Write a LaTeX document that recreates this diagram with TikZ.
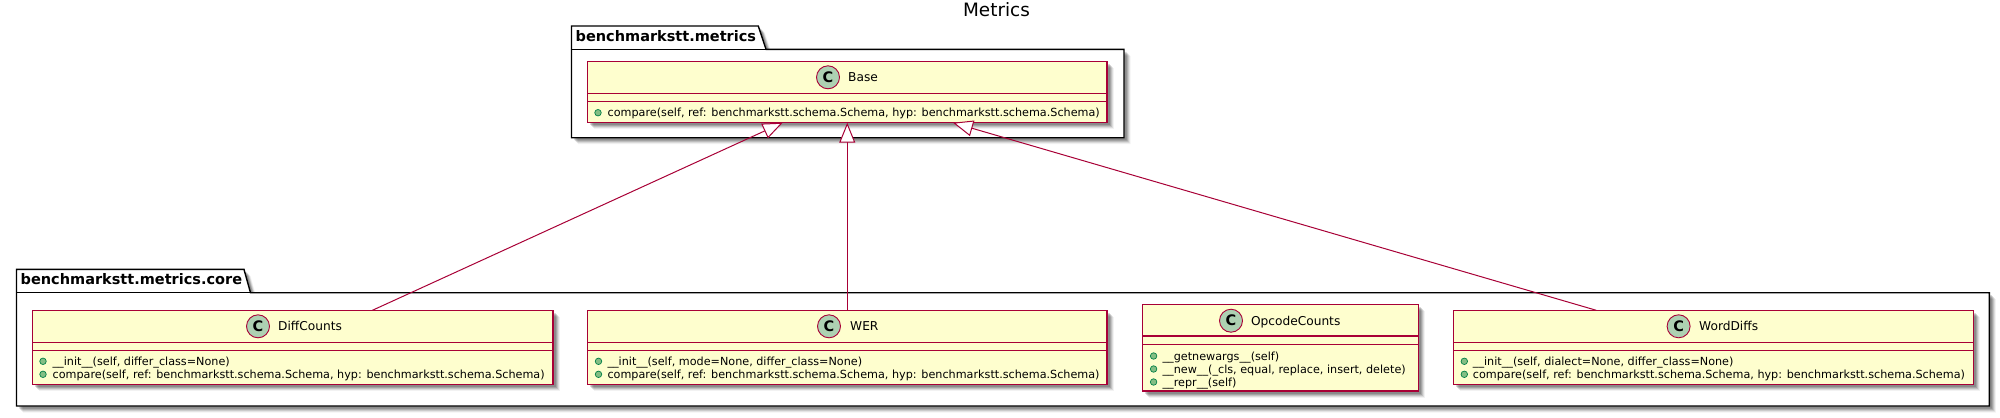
\documentclass[tikz,border=0pt]{standalone}
\usepackage{fontspec}
\setmainfont{DejaVu Sans}
\usetikzlibrary{arrows.meta,calc,shadows}
\definecolor{umlred}{HTML}{A80036}
\definecolor{umlfill}{HTML}{FEFECE}
\definecolor{umlcirc}{HTML}{ADD1B2}
\definecolor{dotfill}{HTML}{84BE84}
\definecolor{dotline}{HTML}{038048}
\tikzset{
  softshadow/.style={
    general shadow={shadow xshift=6.5bp,shadow yshift=-6.5bp,fill=black,fill opacity=.05,draw=none},
    general shadow={shadow xshift=5.5bp,shadow yshift=-5.5bp,fill=black,fill opacity=.09,draw=none},
    general shadow={shadow xshift=4.5bp,shadow yshift=-4.5bp,fill=black,fill opacity=.12,draw=none},
    general shadow={shadow xshift=3.5bp,shadow yshift=-3.5bp,fill=black,fill opacity=.15,draw=none},
    general shadow={shadow xshift=2.5bp,shadow yshift=-2.5bp,fill=black,fill opacity=.15,draw=none}},
  classbox/.style={rectangle,draw=umlred,line width=1.4bp,fill=umlfill,inner sep=0pt,outer sep=0pt,softshadow},
  classline/.style={draw=umlred,line width=1.2bp},
  pkgbox/.style={draw=black,line width=1.4bp,fill=white,softshadow},
  pkgline/.style={draw=black,line width=1.4bp},
  pkgtitle/.style={anchor=base west,inner sep=0pt,font=\fontsize{14.5bp}{16bp}\selectfont\bfseries},
  ctitle/.style={anchor=base west,inner sep=0pt,font=\fontsize{12.2bp}{14bp}\selectfont},
  cmember/.style={anchor=base west,inner sep=0pt,font=\fontsize{11.2bp}{13bp}\selectfont},
  cbadge/.style={circle,draw=umlred,line width=.9bp,fill=umlcirc,minimum size=23bp,inner sep=0pt,font=\fontsize{14.5bp}{15bp}\selectfont\bfseries},
  mdot/.style={circle,draw=dotline,line width=.7bp,fill=dotfill,minimum size=6.5bp,inner sep=0pt},
  inherit/.style={draw=umlred,line width=1bp,-{Triangle[open,length=20bp,width=16bp,fill=white]}},
  charttitle/.style={inner sep=0pt,font=\fontsize{18.4bp}{20bp}\selectfont}
}
% id, centre x, top, width, height, sep1, sep2, badge x, badge y, title x, title
\newcommand{\umlclass}[9]{%
  \node[classbox,minimum width=#4bp,minimum height=#5bp] (#1) at (#2,#3) {};
  \draw[classline] (#1.west |- 0,#6) -- (#1.east |- 0,#6);
  \draw[classline] (#1.west |- 0,#7) -- (#1.east |- 0,#7);
  \node[cbadge] (#1-badge) at (#8,#9) {C};
  \umlclassrest{#1}{#9}}
\newcommand{\umlclassrest}[4]{\node[ctitle] (#1-title) at (#3,#2+4.4) {#4};}
% id, dot x, y, text x, text
\newcommand{\umlmember}[5]{%
  \node[mdot] (#1-dot) at (#2,#3) {};
  \node[cmember] (#1) at (#4,#3+4.1) {#5};}
\begin{document}
\begin{tikzpicture}[x=1bp,y=-1bp]
\useasboundingbox (0,0) rectangle (2000,417);
\node[charttitle] (title) at (996.5,10) {Metrics};

% packages
\draw[pkgbox] (571.5,26) -- (758.3,26) -- (766,49.3) -- (1124,49.3) -- (1124,137.7) -- (571.5,137.7) -- cycle;
\draw[pkgline] (571.5,49.3) -- (766,49.3);
\node[pkgtitle] (pkgA) at (575.5,41.8) {benchmarkstt.metrics};

\draw[pkgbox] (16.5,269.4) -- (244,269.4) -- (250.5,292.7) -- (1989.4,292.7) -- (1989.4,406) -- (16.5,406) -- cycle;
\draw[pkgline] (16.5,292.7) -- (250.5,292.7);
\node[pkgtitle] (pkgB) at (20.5,284.9) {benchmarkstt.metrics.core};

% classes
\umlclass{base}{847.25}{92}{519.5}{61.4}{93.3}{101.3}{828}{77.3}{848}{Base}
\umlmember{base-m1}{598}{112.7}{607.5}{compare(self, ref: benchmarkstt.schema.Schema, hyp: benchmarkstt.schema.Schema)}

\umlclass{diff}{292.75}{347.3}{520.5}{74}{342.3}{350.3}{258}{326.3}{278}{DiffCounts}
\umlmember{diff-m1}{43}{361.3}{52.4}{\_\_init\_\_(self, differ\_class=None)}
\umlmember{diff-m2}{43}{374.3}{52.4}{compare(self, ref: benchmarkstt.schema.Schema, hyp: benchmarkstt.schema.Schema)}

\umlclass{wer}{847.25}{347.3}{519.5}{74}{342.3}{350.3}{829}{326.3}{850}{WER}
\umlmember{wer-m1}{598.5}{361.3}{607.3}{\_\_init\_\_(self, mode=None, differ\_class=None)}
\umlmember{wer-m2}{598.5}{374.3}{607.3}{compare(self, ref: benchmarkstt.schema.Schema, hyp: benchmarkstt.schema.Schema)}

\umlclass{opc}{1280.65}{347.65}{275.9}{86.7}{336}{344.3}{1231}{320.7}{1250.8}{OpcodeCounts}
\umlmember{opc-m1}{1153.6}{356}{1162.4}{\_\_getnewargs\_\_(self)}
\umlmember{opc-m2}{1153.6}{369}{1162.4}{\_\_new\_\_(\_cls, equal, replace, insert, delete)}
\umlmember{opc-m3}{1153.6}{382}{1162.4}{\_\_repr\_\_(self)}

\umlclass{wd}{1713.45}{347.3}{519.7}{74}{342.3}{350.3}{1678.6}{326.3}{1699}{WordDiffs}
\umlmember{wd-m1}{1464.3}{361.3}{1472.7}{\_\_init\_\_(self, dialect=None, differ\_class=None)}
\umlmember{wd-m2}{1464.3}{374.3}{1472.7}{compare(self, ref: benchmarkstt.schema.Schema, hyp: benchmarkstt.schema.Schema)}

% connectors
\draw[inherit] ($(diff.north)+(79.65,0)$) -- ($(base.south)+(-64.55,0)$);
\draw[inherit] (wer.north) -- (base.south);
\draw[inherit] ($(wd.north)+(-117.15,0)$) -- ($(base.south)+(105.75,0)$);
\end{tikzpicture}
\end{document}
